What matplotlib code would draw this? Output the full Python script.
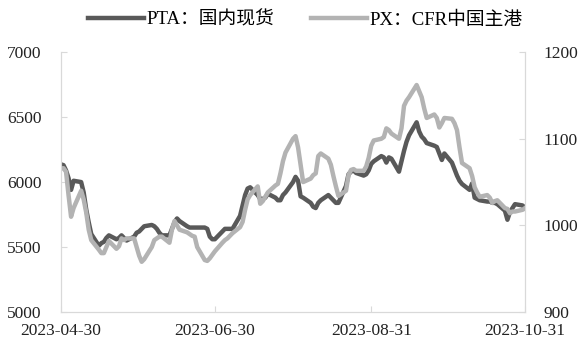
import numpy as np
import pandas as pd
import matplotlib
matplotlib.use("Agg")
import matplotlib.pyplot as plt
import matplotlib.dates as mdates

plt.rcParams['font.family'] = ['Liberation Serif', 'Noto Sans CJK SC']
plt.rcParams['font.size'] = 12.5

# trading days: 2023-04-28 then every business day to 2023-10-31
dates = pd.DatetimeIndex(['2023-04-28']).append(pd.bdate_range('2023-05-01', '2023-10-31'))

# PTA spot price (left axis, yuan/t)
pta = [6150,
       6130, 6090, 6030, 5940, 6010,
       6000, 5920, 5790, 5690, 5600,
       5510, 5530, 5540, 5570, 5590,
       5560, 5570, 5590, 5570, 5550,
       5580, 5610, 5620, 5640, 5660,
       5670, 5660, 5640, 5610, 5590,
       5590, 5640, 5690, 5720, 5700,
       5660, 5650, 5650, 5650, 5650,
       5650, 5640, 5580, 5560, 5560,
       5620, 5640, 5640, 5640, 5640,
       5740, 5820, 5900, 5950, 5960,
       5900, 5870, 5870, 5880, 5910,
       5880, 5860, 5860, 5900, 5920,
       6000, 6040, 6010, 5890, 5880,
       5840, 5810, 5800, 5840, 5860,
       5900, 5880, 5860, 5840, 5840,
       5970, 6060, 6080, 6090, 6070,
       6050, 6060, 6090, 6140, 6160,
       6200, 6190, 6150, 6190, 6180,
       6080, 6160, 6240, 6310, 6360,
       6460, 6390, 6350, 6330, 6300,
       6280, 6270, 6220, 6170, 6220,
       6150, 6100, 6050, 6010, 5985,
       5940, 5990, 5880, 5870, 5860,
       5850, 5850, 5840, 5840, 5830,
       5780, 5710, 5770, 5800, 5830,
       5820, 5800]

# PX CFR China (right axis, usd/t)
px = [1065,
      1066, 1062, 1035, 1010, 1020,
      1040, 1030, 1015, 995, 983,
      972, 968, 968, 975, 982,
      973, 976, 985, 983, 985,
      985, 975, 965, 958, 961,
      975, 983, 985, 987, 987,
      980, 995, 1005, 1000, 995,
      992, 990, 988, 987, 975,
      960, 959, 962, 966, 970,
      980, 983, 985, 988, 991,
      998, 1004, 1018, 1030, 1035,
      1045, 1025, 1028, 1033, 1038,
      1046, 1048, 1060, 1074, 1084,
      1100, 1103, 1090, 1070, 1050,
      1054, 1058, 1060, 1080, 1083,
      1077, 1070, 1057, 1045, 1034,
      1040, 1058, 1064, 1065, 1063,
      1063, 1068, 1078, 1092, 1098,
      1100, 1102, 1112, 1110, 1106,
      1100, 1112, 1138, 1144, 1148,
      1162, 1155, 1148, 1135, 1124,
      1128, 1124, 1113, 1118, 1124,
      1123, 1118, 1110, 1090, 1072,
      1066, 1057, 1044, 1038, 1033,
      1035, 1032, 1026, 1028, 1029,
      1020, 1019, 1014, 1016, 1016,
      1018, 1020]

x_ticks = pd.to_datetime(['2023-04-30', '2023-06-30', '2023-08-31', '2023-10-31'])
labels = ['PTA：国内现货', 'PX：CFR中国主港']

spine_c = '#d9d9d9'

fig = plt.figure(figsize=(5.88, 3.57), dpi=100)
ax = fig.add_axes([0.1037, 0.126, 0.7893, 0.728])
ax2 = ax.twinx()

l1, = ax.plot(dates, pta, color='#595959', lw=3.2, solid_joinstyle='round')
l2, = ax2.plot(dates, px, color='#b3b3b3', lw=3.2, solid_joinstyle='round')

ax.set_xlim(x_ticks[0], x_ticks[-1])
ax.set_ylim(5000, 7000)
ax2.set_ylim(900, 1200)
ax.set_yticks([5000, 5500, 6000, 6500, 7000])
ax2.set_yticks([900, 1000, 1100, 1200])
ax.set_xticks(x_ticks)
ax.xaxis.set_major_formatter(mdates.DateFormatter('%Y-%m-%d'))

for a in (ax, ax2):
    for s in a.spines.values():
        s.set_color(spine_c)
    a.spines['top'].set_visible(False)
ax.tick_params(axis='y', direction='in', length=4, color=spine_c, pad=14, labelcolor='#222222')
ax2.tick_params(axis='y', direction='in', length=4, color=spine_c, pad=13, labelcolor='#222222')
ax.tick_params(axis='x', direction='in', length=4, color=spine_c, pad=8, labelcolor='#222222')

fig.legend([l1, l2], labels, loc='upper center', bbox_to_anchor=(0.519, 1.015), ncol=2,
           frameon=False, handlelength=3.0, handletextpad=0.1, columnspacing=2.0, fontsize=13.5)

fig.savefig('out.png', dpi=100)
